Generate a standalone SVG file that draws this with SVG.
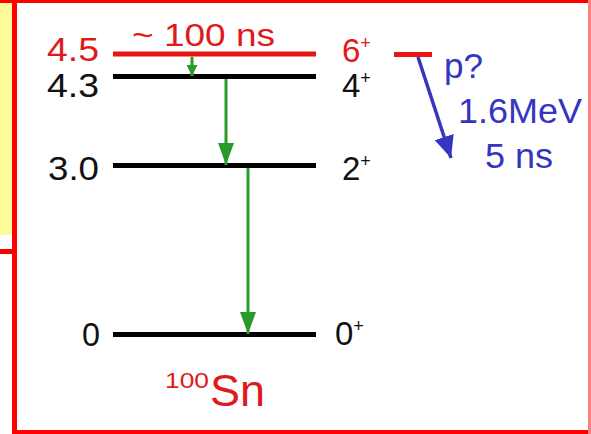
<svg xmlns="http://www.w3.org/2000/svg" width="591" height="434" viewBox="0 0 591 434">
  <style>
    text { font-family: "Liberation Sans", Arial, sans-serif; }
    .lvl { stroke: #000; stroke-width: 5; }
    .red { fill: #e01a1a; }
    .blk { fill: #111; }
    .blu { fill: #3535c0; }
    .sup { font-size: 18px; }
    .g { stroke: #2a9a2a; stroke-width: 3; fill: none; }
  </style>
  <defs>
    <marker id="ga" viewBox="0 0 22 16" refX="22" refY="8" markerWidth="22" markerHeight="16" markerUnits="userSpaceOnUse" orient="auto">
      <path d="M0,0 L22,8 L0,16 z" fill="#2a9a2a"/>
    </marker>
    <marker id="gs" viewBox="0 0 11 11" refX="11" refY="5.5" markerWidth="11" markerHeight="11" markerUnits="userSpaceOnUse" orient="auto">
      <path d="M0,0 L11,5.5 L0,11 z" fill="#2a9a2a"/>
    </marker>
    <marker id="ba" viewBox="0 0 22 20" refX="22" refY="10" markerWidth="22" markerHeight="20" markerUnits="userSpaceOnUse" orient="auto">
      <path d="M0,0 L22,10 L0,20 z" fill="#3535c0"/>
    </marker>
  </defs>

  <rect width="591" height="434" fill="#ffffff"/>
  <!-- background frame -->
  <rect x="0" y="0" width="12" height="235" fill="#fffb9c"/>
  <rect x="0" y="249" width="14" height="5" fill="#ff0000"/>
  <rect x="12" y="0" width="5" height="434" fill="#ff0000"/>
  <rect x="0" y="0" width="591" height="3" fill="#ff0000"/>
  <rect x="12" y="430" width="579" height="4" fill="#ff0000"/>
  <rect x="588" y="0" width="3" height="434" fill="#ff8080"/>

  <g id="level-45">
    <line x1="113" y1="54" x2="316" y2="54" stroke="#e81515" stroke-width="5"/>
    <text x="47" y="61" font-size="33" class="red" textLength="52" lengthAdjust="spacingAndGlyphs">4.5</text>
    <text x="342" y="62" font-size="33" class="red">6<tspan class="sup" dy="-13">+</tspan></text>
    <text x="132" y="46" font-size="32" class="red" textLength="143" lengthAdjust="spacingAndGlyphs">~ 100 ns</text>
  </g>
  <g id="level-43">
    <line class="lvl" x1="113" y1="76.5" x2="316" y2="76.5"/>
    <text x="47" y="97" font-size="33" class="blk" textLength="52" lengthAdjust="spacingAndGlyphs">4.3</text>
    <text x="342" y="97" font-size="33" class="blk">4<tspan class="sup" dy="-13">+</tspan></text>
  </g>
  <g id="level-30">
    <line class="lvl" x1="113" y1="165.5" x2="316" y2="165.5"/>
    <text x="48" y="180" font-size="33" class="blk" textLength="51" lengthAdjust="spacingAndGlyphs">3.0</text>
    <text x="342" y="180" font-size="33" class="blk">2<tspan class="sup" dy="-13">+</tspan></text>
  </g>
  <g id="level-0">
    <line class="lvl" x1="113" y1="334.5" x2="316" y2="334.5"/>
    <text x="82" y="346" font-size="33" class="blk" textLength="18" lengthAdjust="spacingAndGlyphs">0</text>
    <text x="335" y="345" font-size="33" class="blk">0<tspan class="sup" dy="-13">+</tspan></text>
  </g>
  <g id="proton-level">
    <line x1="394" y1="54.5" x2="432" y2="54.5" stroke="#e81515" stroke-width="5"/>
    <text x="444" y="78" font-size="35" class="blu">p?</text>
    <text x="458" y="123" font-size="35" class="blu" textLength="124" lengthAdjust="spacingAndGlyphs">1.6MeV</text>
    <text x="485" y="168" font-size="35" class="blu" textLength="68" lengthAdjust="spacingAndGlyphs">5 ns</text>
  </g>
  <g id="label-sn">
    <text x="165" y="388" font-size="22" class="red" textLength="44" lengthAdjust="spacingAndGlyphs">100</text>
    <text x="210" y="406" font-size="44" class="red" textLength="55" lengthAdjust="spacingAndGlyphs">Sn</text>
  </g>

  <g id="connectors">
    <line class="g" x1="192" y1="57" x2="192" y2="76" marker-end="url(#gs)"/>
    <line class="g" x1="226" y1="79" x2="226" y2="165" marker-end="url(#ga)"/>
    <line class="g" x1="248" y1="168" x2="248" y2="334" marker-end="url(#ga)"/>
    <line x1="418" y1="57" x2="451" y2="158" stroke="#3535c0" stroke-width="3.5" marker-end="url(#ba)"/>
  </g>
</svg>
